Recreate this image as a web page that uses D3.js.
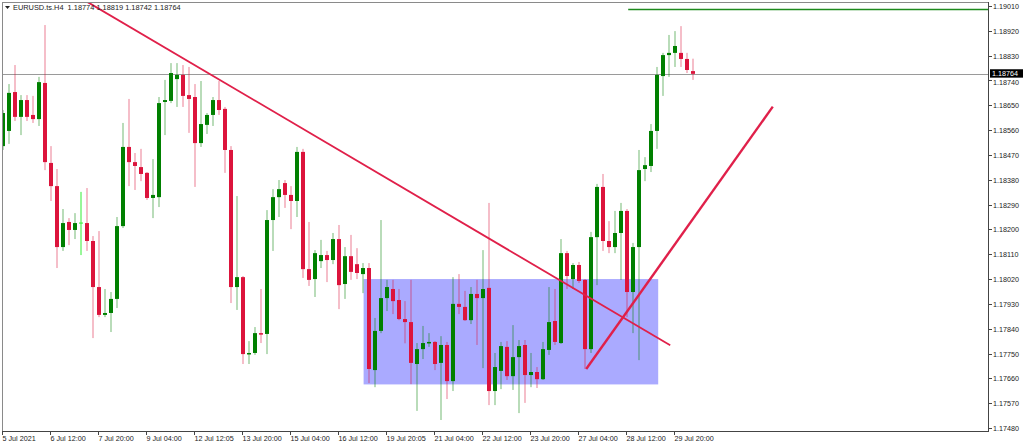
<!DOCTYPE html>
<html><head><meta charset="utf-8">
<script src="https://cdn.jsdelivr.net/npm/d3@7"></script>
<style>
body{margin:0;background:#fff}
svg{display:block}
text{font-family:"Liberation Sans",Arial,sans-serif}
</style>
</head><body>
<svg id="c" width="1024" height="447"></svg>
<script>
// ---- Data (EURUSD H4) ----
const opens=[1.18502,1.18557,1.18698,1.18608,1.18669,1.18615,1.18600,1.18731,1.18441,1.18357,
1.18136,1.18227,1.18198,1.18223,1.18223,1.18158,1.17991,1.17890,1.17897,1.17948,
1.18212,1.18499,1.18444,1.18426,1.18405,1.18314,1.18317,1.18662,1.18666,1.18745,
1.18760,1.18687,1.18680,1.18513,1.18579,1.18615,1.18669,1.18637,1.18488,1.17991,
1.18027,1.17748,1.17752,1.17824,1.17821,1.18234,1.18317,1.18368,1.18325,1.18303,
1.18481,1.18056,1.18020,1.18085,1.18107,1.18089,1.18165,1.18002,1.18103,1.18074,
1.18038,1.18060,1.17690,1.17832,1.17951,1.17984,1.17944,1.17875,1.17864,1.17712,
1.17766,1.17788,1.17792,1.17716,1.17781,1.17650,1.17930,1.17919,1.17871,1.17966,
1.17951,1.17988,1.17614,1.17687,1.17774,1.17668,1.17737,1.17781,1.17672,1.17683,
1.17657,1.17763,1.17868,1.17788,1.18114,1.18020,1.18071,1.18017,1.17766,1.18172,
1.18354,1.18158,1.18136,1.18187,1.18267,1.17973,1.18136,1.18419,1.18430,1.18557,
1.18756,1.18832,1.18840,1.18840,1.18818,1.18774];
const highs=[1.18633,1.18727,1.18796,1.18687,1.18687,1.18684,1.18753,1.18941,1.18502,1.18419,
1.18274,1.18241,1.18259,1.18336,1.18350,1.18176,1.18194,1.17984,1.17973,1.18245,
1.18586,1.18673,1.18477,1.18492,1.18408,1.18455,1.18680,1.18742,1.18803,1.18803,
1.18796,1.18789,1.18727,1.18738,1.18622,1.18680,1.18738,1.18644,1.18502,1.18321,
1.18031,1.17795,1.17846,1.17984,1.18270,1.18346,1.18379,1.18379,1.18357,1.18499,
1.18492,1.18227,1.18125,1.18162,1.18122,1.18187,1.18216,1.18136,1.18180,1.18132,
1.18078,1.18078,1.17879,1.18234,1.18017,1.18017,1.17984,1.17940,1.18017,1.17788,
1.17850,1.17824,1.17795,1.17813,1.17792,1.18027,1.18038,1.17977,1.17991,1.18017,
1.18125,1.18296,1.17752,1.17792,1.17795,1.17853,1.17799,1.17799,1.17752,1.17701,
1.17792,1.17991,1.17984,1.18165,1.18122,1.18078,1.18082,1.18020,1.18191,1.18365,
1.18401,1.18230,1.18267,1.18296,1.18274,1.18151,1.18488,1.18462,1.18582,1.18789,
1.18840,1.18905,1.18919,1.18937,1.18840,1.18819];
const lows=[1.18488,1.18510,1.18593,1.18542,1.18593,1.18586,1.18575,1.18415,1.18303,1.18060,
1.18122,1.18143,1.18165,1.18107,1.18122,1.17806,1.17882,1.17882,1.17828,1.17915,
1.18205,1.18357,1.18343,1.18375,1.18307,1.18241,1.18281,1.18542,1.18658,1.18644,
1.18644,1.18550,1.18354,1.18499,1.18546,1.18575,1.18615,1.18405,1.17933,1.17908,
1.17712,1.17712,1.17745,1.17788,1.17748,1.18122,1.18245,1.18278,1.18201,1.18245,
1.18024,1.17995,1.17955,1.18060,1.18009,1.18074,1.17911,1.17948,1.18017,1.18020,
1.17969,1.17643,1.17628,1.17824,1.17904,1.17893,1.17871,1.17787,1.17639,1.17542,
1.17730,1.17774,1.17690,1.17509,1.17585,1.17614,1.17893,1.17868,1.17857,1.17781,
1.17697,1.17563,1.17563,1.17621,1.17654,1.17618,1.17534,1.17571,1.17628,1.17625,
1.17654,1.17745,1.17781,1.17785,1.17984,1.17984,1.18006,1.17694,1.17752,1.17998,
1.18122,1.18114,1.18114,1.18017,1.17882,1.17824,1.17726,1.18375,1.18408,1.18492,
1.18684,1.18753,1.18789,1.18789,1.18767,1.18742];
const closes=[1.18622,1.18695,1.18608,1.18669,1.18608,1.18600,1.18734,1.18444,1.18357,1.18136,
1.18223,1.18198,1.18223,1.18223,1.18158,1.17991,1.17890,1.17897,1.17948,1.18212,
1.18499,1.18444,1.18430,1.18401,1.18314,1.18325,1.18658,1.18669,1.18767,1.18760,
1.18684,1.18673,1.18513,1.18582,1.18615,1.18669,1.18633,1.18488,1.17991,1.18027,
1.17748,1.17752,1.17824,1.17821,1.18234,1.18317,1.18346,1.18325,1.18303,1.18481,
1.18056,1.18017,1.18114,1.18107,1.18089,1.18165,1.17998,1.18103,1.18046,1.18042,
1.18060,1.17694,1.17832,1.17951,1.17991,1.17940,1.17875,1.17864,1.17716,1.17766,
1.17788,1.17792,1.17712,1.17781,1.17650,1.17930,1.17919,1.17871,1.17966,1.17951,
1.17984,1.17614,1.17701,1.17777,1.17668,1.17737,1.17777,1.17672,1.17683,1.17657,
1.17766,1.17864,1.17792,1.18114,1.18031,1.18071,1.18013,1.17766,1.18172,1.18354,
1.18158,1.18136,1.18187,1.18267,1.17973,1.18136,1.18415,1.18433,1.18557,1.18760,
1.18832,1.18840,1.18865,1.18818,1.18778,1.18764];

const yTickValues=[1.19010,1.18920,1.18830,1.18740,1.18650,1.18560,1.18470,1.18380,1.18290,
1.18200,1.18110,1.18020,1.17930,1.17840,1.17750,1.17660,1.17570,1.17480];
const xTickBars=[0,8,16,24,32,40,48,56,64,72,80,88,96,104,112];
const xTickLabels=["5 Jul 2021","6 Jul 12:00","7 Jul 20:00","9 Jul 04:00","12 Jul 12:05",
"13 Jul 20:00","15 Jul 04:00","16 Jul 12:00","19 Jul 20:05","21 Jul 04:00","22 Jul 12:00",
"23 Jul 20:00","27 Jul 04:00","28 Jul 12:00","29 Jul 20:00"];
const symbolTitle="EURUSD.ts.H4";

// drawing objects (bar index, price)
const downTrend=[[14.05,1.19025],[111.2,1.17780]];
const upTrend=[[97.2,1.17694],[128.3,1.18645]];
const zoneBars=[60.1,109.2];
const zonePrices=[1.18020,1.17638];
const levelStartBar=104.2;
const levelPrice=1.18997;

// ---- Layout ----
const svg=d3.select("#c");
const L=2,R=988,T=2,B=431;
const x=d3.scaleLinear().domain([0,160]).range([3,963]);
const y=d3.scaleLinear().domain([1.17480,1.19010]).range([428,6]);

const bars=opens.map((o,i)=>({i,o,h:highs[i],l:lows[i],c:closes[i]}));
const last=bars[bars.length-1];

svg.append("rect").attr("width",1024).attr("height",447).attr("fill","#fff");
svg.append("clipPath").attr("id","clip").append("rect")
  .attr("x",L).attr("y",T).attr("width",R-L).attr("height",B-T);
const g=svg.append("g").attr("clip-path","url(#clip)");

// zone rectangle
g.append("rect")
  .attr("x",x(zoneBars[0])).attr("width",x(zoneBars[1])-x(zoneBars[0]))
  .attr("y",y(zonePrices[0])).attr("height",y(zonePrices[1])-y(zonePrices[0]))
  .attr("fill","#aaaaff");

// bid line
g.append("line").attr("x1",L).attr("x2",R)
  .attr("y1",Math.round(y(last.c))+0.5).attr("y2",Math.round(y(last.c))+0.5)
  .attr("stroke","#9a9a9a").attr("stroke-width",1);

// green level line
g.append("line").attr("x1",x(levelStartBar)).attr("x2",R)
  .attr("y1",y(levelPrice)).attr("y2",y(levelPrice))
  .attr("stroke","#1e8a1e").attr("stroke-width",1.5);

const up="#008000", dn="#dc143c";
const col=d=>d.c>d.o?up:(d.c<d.o?dn:"#33ee33");
const cg=g.append("g");
cg.selectAll("line.w").data(bars).join("line").attr("class","w")
  .attr("x1",d=>x(d.i)).attr("x2",d=>x(d.i))
  .attr("y1",d=>y(d.h)).attr("y2",d=>y(d.l))
  .attr("stroke",col).attr("stroke-width",1)
  .attr("stroke-opacity",d=>d.c===d.o?1:0.55);
cg.selectAll("rect.b").data(bars.filter(d=>d.c!==d.o)).join("rect").attr("class","b")
  .attr("x",d=>x(d.i)-2).attr("width",4)
  .attr("y",d=>y(Math.max(d.o,d.c)))
  .attr("height",d=>Math.max(1.5,Math.abs(y(d.o)-y(d.c))))
  .attr("fill",col);
cg.selectAll("line.dj").data(bars.filter(d=>d.c===d.o)).join("line").attr("class","dj")
  .attr("x1",d=>x(d.i)-2).attr("x2",d=>x(d.i)+2)
  .attr("y1",d=>y(d.o)).attr("y2",d=>y(d.o))
  .attr("stroke",col).attr("stroke-width",1);

// trend lines
const line=d3.line().x(d=>x(d[0])).y(d=>y(d[1]));
g.append("path").attr("d",line(downTrend)).attr("fill","none")
  .attr("stroke","#e0204a").attr("stroke-width",1.8);
g.append("path").attr("d",line(upTrend)).attr("fill","none")
  .attr("stroke","#e0204a").attr("stroke-width",2.4);

// frame
svg.append("line").attr("x1",L+0.5).attr("x2",L+0.5).attr("y1",T).attr("y2",B)
  .attr("stroke","#8a8a8a");
svg.append("line").attr("x1",L).attr("x2",R).attr("y1",T+0.5).attr("y2",T+0.5)
  .attr("stroke","#8a8a8a");
svg.append("line").attr("x1",R+0.5).attr("x2",R+0.5).attr("y1",T).attr("y2",B+1)
  .attr("stroke","#444");
svg.append("line").attr("x1",L).attr("x2",R+1).attr("y1",B+0.5).attr("y2",B+0.5)
  .attr("stroke","#444");

// y axis
const ya=svg.append("g");
const py=y(last.c);
yTickValues.forEach(v=>{
  const yy=Math.round(y(v))+0.5;
  ya.append("line").attr("x1",R).attr("x2",R+4).attr("y1",yy).attr("y2",yy).attr("stroke","#444");
  // label partly hidden under the price box (as in the reference) is nudged just below it
  const ty=Math.abs(yy-py)<8?Math.max(yy,py+8.6):yy;
  ya.append("text").attr("x",R+5).attr("y",ty).attr("dy","0.35em")
    .attr("font-size",7.2).attr("fill","#222").text(d3.format(".5f")(v));
});
// price label
ya.append("rect").attr("x",R+2).attr("y",py-4.6).attr("width",33).attr("height",8.4).attr("fill","#000");
ya.append("text").attr("x",R+4).attr("y",py-0.4).attr("dy","0.35em")
  .attr("font-size",7.2).attr("fill","#fff").text(d3.format(".5f")(last.c));

// x axis
const xa=svg.append("g");
xTickBars.forEach((b,i)=>{
  const xx=Math.round(x(b))-0.5;
  xa.append("line").attr("x1",xx).attr("x2",xx).attr("y1",B).attr("y2",B+4).attr("stroke","#444");
  xa.append("text").attr("x",xx).attr("y",B+10).attr("font-size",7.2).attr("fill","#222")
    .text(xTickLabels[i]);
});

// header
svg.append("path").attr("d","M5,6 L10,6 L7.5,9 Z").attr("fill","#222");
svg.append("text").attr("x",13).attr("y",10).attr("font-size",7.4).attr("fill","#222")
  .attr("xml:space","preserve")
  .text(symbolTitle+"  "+[last.o,last.h,last.l,last.c].map(d3.format(".5f")).join(" "));
</script>
</body></html>
